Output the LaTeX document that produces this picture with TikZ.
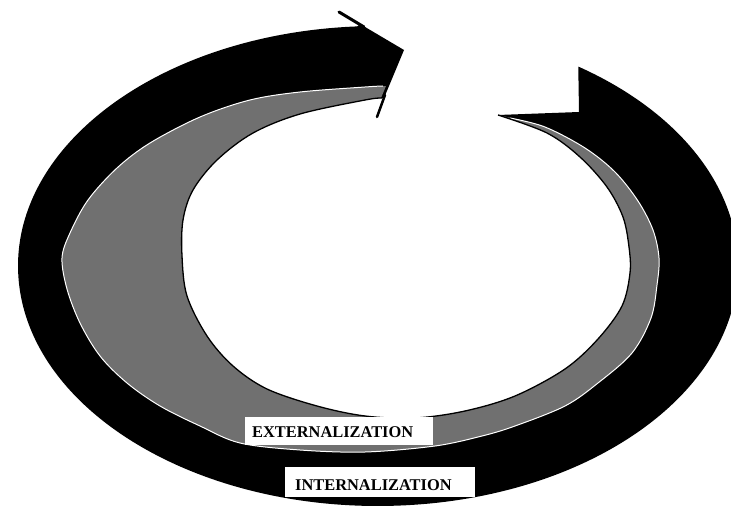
\documentclass[tikz,border=0pt]{standalone}
\usepackage{fontspec}
\setmainfont{Liberation Serif}
\begin{document}
\begin{tikzpicture}[x=1pt,y=-1pt,line join=round,
  darkband/.style={fill=black},
  grayband/.style={fill=black!56},
  rim/.style={draw=white,line width=1pt},
  inneredge/.style={draw=black,line width=1.3pt},
  barb/.style={draw=black,line width=3pt,line cap=round},
  whitebox/.style={fill=white,draw=none,inner sep=0pt,anchor=north west},
  lbl/.style={font=\bfseries\fontsize{16.4}{18}\selectfont,inner sep=0pt,anchor=base west}]
\useasboundingbox (0,0) rectangle (731,513);
\clip (0,0) rectangle (731,513);
\fill[white] (0,0) rectangle (731,513);
% dark outer band with arrow head (top) and tail (right)
\fill[darkband] (357.3,26.4) arc[start angle=266.7,end angle=-56.2,x radius=360,y radius=240]
  -- (579,112) -- (498,115)
  -- plot[smooth,tension=0.55] coordinates {(498,115) (547,133) (580,157) (607,187) (623,217) (629,247) (630,273) (622,306) (598,339) (565,369) (515,396) (465,411) (415,418) (365,416) (317,406) (267,389) (233,366) (207,336) (187,296) (182,256) (183,220) (193,190) (217,160) (253,133) (300,114) (365,100) (384,98)}
  -- (404,50) -- (360,24) -- cycle;
\draw[barb] (339,12) -- (364,27);
\draw[barb,line width=2.5pt] (385,95) -- (377,117);
% gray inner band
\fill[grayband] plot[smooth,tension=0.55] coordinates {(498,115) (545,127) (585,148) (615,172) (638,201) (653,230) (659,258) (657,285) (651,318) (632,353) (598,383) (565,406) (515,426) (482,436) (435,446) (365,452) (300,450) (240,443) (200,426) (160,406) (127,383) (100,356) (80,323) (67,289) (62,258) (70,233) (88,200) (117,168) (150,143) (200,117) (250,100) (300,92) (365,87) (386,86)}
  -- (381,98)
  -- plot[smooth,tension=0.55] coordinates {(381,98) (365,100) (300,114) (253,133) (217,160) (193,190) (183,220) (182,256) (187,296) (207,336) (233,366) (267,389) (317,406) (365,416) (415,418) (465,411) (515,396) (565,369) (598,339) (622,306) (630,273) (629,247) (623,217) (607,187) (580,157) (547,133) (498,115)}
  -- cycle;
\draw[rim] plot[smooth,tension=0.55] coordinates {(510,118) (545,127) (585,148) (615,172) (638,201) (653,230) (659,258) (657,285) (651,318) (632,353) (598,383) (565,406) (515,426) (482,436) (435,446) (365,452) (300,450) (240,443) (200,426) (160,406) (127,383) (100,356) (80,323) (67,289) (62,258) (70,233) (88,200) (117,168) (150,143) (200,117) (250,100) (300,92) (365,87) (383,86)};
\draw[inneredge] plot[smooth,tension=0.55] coordinates {(498,115) (547,133) (580,157) (607,187) (623,217) (629,247) (630,273) (622,306) (598,339) (565,369) (515,396) (465,411) (415,418) (365,416) (317,406) (267,389) (233,366) (207,336) (187,296) (182,256) (183,220) (193,190) (217,160) (253,133) (300,114) (365,100) (382,98)};
% labels
\node[whitebox,minimum width=188pt,minimum height=28pt] (extbox) at (245,417) {};
\node[lbl] (ext) at (252,437) {EXTERNALIZATION};
\node[whitebox,minimum width=190pt,minimum height=30pt] (intbox) at (285,467) {};
\node[lbl] (int) at (295,490) {INTERNALIZATION};
\end{tikzpicture}
\end{document}
